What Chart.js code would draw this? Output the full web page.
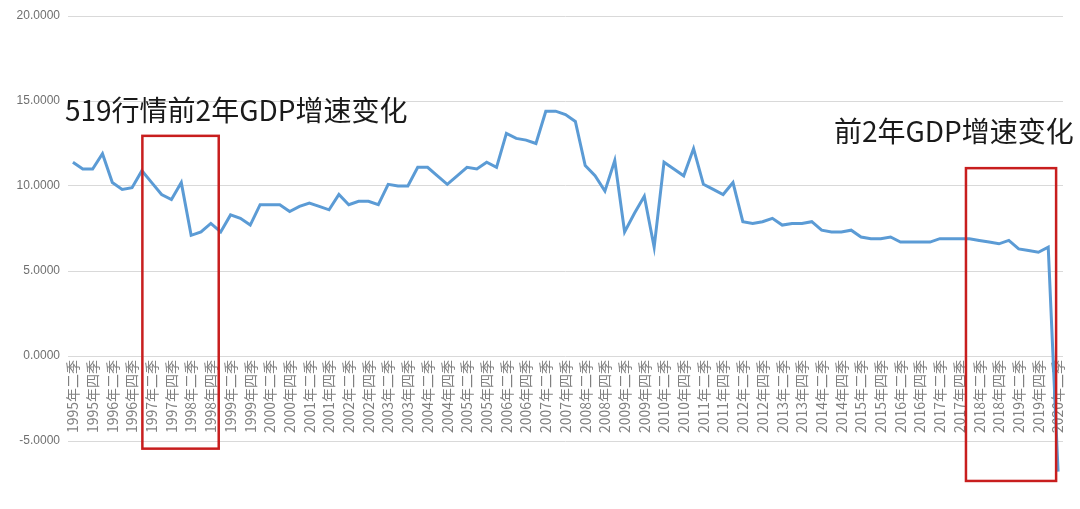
<!DOCTYPE html>
<html>
<head>
<meta charset="utf-8">
<script src="https://cdn.jsdelivr.net/npm/chart.js@4/dist/chart.umd.min.js"></script>
<style>
  html, body { margin: 0; padding: 0; background: #fff; }
  #wrap { width: 1080px; height: 509px; }
</style>
</head>
<body>
<div id="wrap"><canvas id="gdp"></canvas></div>
<script>
// quarters, 1995年二季 .. 2020年二季
const quarterNames = ["一季", "二季", "三季", "四季"]
const quarters = []
for (let y = 1995; y <= 2020; y++) {
    for (let q = 0; q < 4; q++) {
        if (y === 1995 && q === 0) continue
        if (y === 2020 && q > 1) continue
        quarters.push(y + "年" + quarterNames[q])
    }
}

// GDP growth
const gdpGrowth = [
    11.4, 11.0, 11.0, 11.9, 10.2, 9.8, 9.9, 10.9, 10.2, 9.5,
    9.2, 10.2, 7.1, 7.3, 7.8, 7.3, 8.3, 8.1, 7.7, 8.9,
    8.9, 8.9, 8.5, 8.8, 9.0, 8.8, 8.6, 9.5, 8.9, 9.1,
    9.1, 8.9, 10.1, 10.0, 10.0, 11.1, 11.1, 10.6, 10.1, 10.6,
    11.1, 11.0, 11.4, 11.1, 13.1, 12.8, 12.7, 12.5, 14.4, 14.4,
    14.2, 13.8, 11.2, 10.6, 9.7, 11.5, 7.3, 8.4, 9.4, 6.4,
    11.4, 11.0, 10.6, 12.2, 10.1, 9.8, 9.5, 10.2, 7.9, 7.8,
    7.9, 8.1, 7.7, 7.8, 7.8, 7.9, 7.4, 7.3, 7.3, 7.4,
    7.0, 6.9, 6.9, 7.0, 6.7, 6.7, 6.7, 6.7, 6.9, 6.9,
    6.9, 6.9, 6.8, 6.7, 6.6, 6.8, 6.3, 6.2, 6.1, 6.4,
    -6.8
]

const yTicks = [-5, 0, 5, 10, 15, 20]

// highlight boxes in data units: [fromIndex, toIndex, top, bottom]
const boxes = [
    [7.05, 14.8, 12.95, -5.45],
    [90.65, 99.8, 11.05, -7.35]
]
const notes = ["519行情前2年GDP增速变化", "前2年GDP增速变化"]

const overlay = {
    id: "overlay",
    afterDatasetsDraw(chart) {
        const ctx = chart.ctx
        const x = chart.scales.x
        const y = chart.scales.y
        ctx.save()
        ctx.strokeStyle = "#c81e1e"
        ctx.lineWidth = 2.5
        boxes.forEach(function(b) {
            const l = x.getPixelForValue(b[0])
            const r = x.getPixelForValue(b[1])
            const t = y.getPixelForValue(b[2])
            const btm = y.getPixelForValue(b[3])
            ctx.strokeRect(l, t, r - l, btm - t)
        })
        ctx.fillStyle = "#1a1a1a"
        ctx.font = "28px 'Noto Sans CJK SC'"
        ctx.textBaseline = "middle"
        ctx.textAlign = "left"
        ctx.fillText(notes[0], 65, 110)
        ctx.fillText(notes[1], 834, 131)
        ctx.restore()
    }
}

const ctx = document.getElementById("gdp").getContext("2d")

const myChart = new Chart(ctx, {
    type: "line",
    data: {
        labels: quarters,
        datasets: [{
            data: gdpGrowth,
            borderColor: "#5b9bd5",
            borderWidth: 3,
            pointRadius: 0,
            tension: 0,
            fill: false,
            clip: false
        }]
    },
    options: {
        responsive: true,
        maintainAspectRatio: false,
        animation: false,
        layout: { padding: { left: 0, right: 17, top: 16, bottom: 17 } },
        plugins: { legend: { display: false }, tooltip: { enabled: false } },
        scales: {
            x: {
                position: { y: 0 },
                offset: true,
                grid: { display: false, drawTicks: false },
                border: { display: false },
                ticks: {
                    autoSkip: false,
                    minRotation: 90,
                    maxRotation: 90,
                    padding: 4,
                    color: "#808080",
                    font: { family: "'Noto Sans CJK SC'", size: 14 },
                    callback: function(value, index) {
                        return index % 2 === 0 ? this.getLabelForValue(value) : ""
                    }
                }
            },
            y: {
                min: -8,
                max: 20,
                afterBuildTicks: function(axis) {
                    axis.ticks = yTicks.map(v => ({ value: v }))
                },
                afterFit: function(axis) { axis.width = 68 },
                grid: { color: "#d9d9d9", lineWidth: 1, drawTicks: false },
                border: { display: false },
                ticks: {
                    padding: 8,
                    color: "#6f6f6f",
                    font: { family: "'Liberation Sans'", size: 12 },
                    callback: v => v.toFixed(4)
                }
            }
        }
    },
    plugins: [overlay]
})
</script>
</body>
</html>
